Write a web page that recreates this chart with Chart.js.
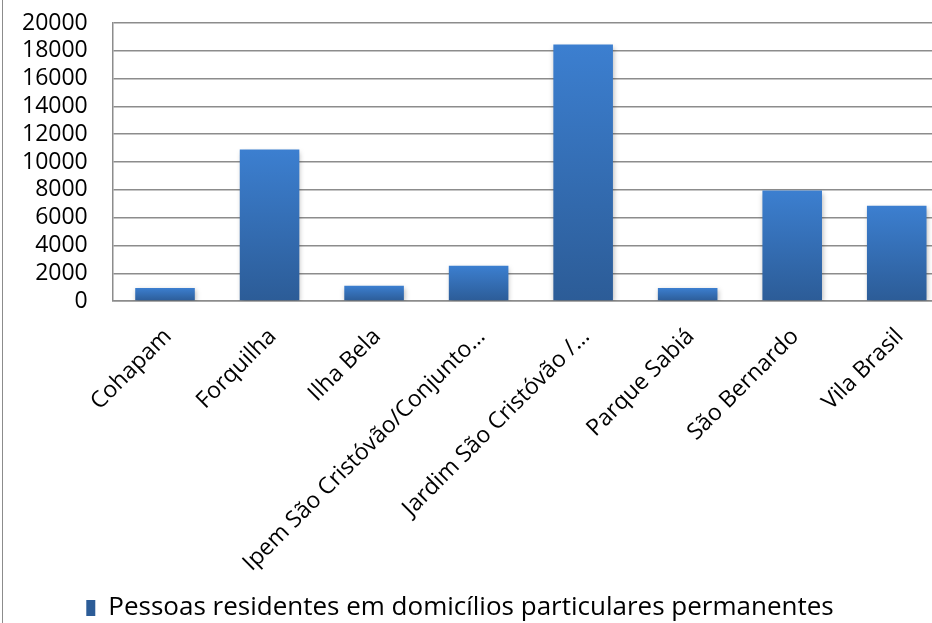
<!DOCTYPE html>
<html>
<head>
<meta charset="utf-8">
<script src="https://cdn.jsdelivr.net/npm/chart.js@4/dist/chart.umd.min.js"></script>
<style>
  html, body { margin: 0; padding: 0; background: #fff; }
  #quadro { position: relative; width: 932px; height: 623px; overflow: hidden; }
  #area   { position: absolute; left: 0; top: 0; width: 980px; height: 623px; }
  #borda  { position: absolute; left: 2px; top: 0; width: 1px; height: 623px; background: #8c8c8c; }
</style>
</head>
<body>
<div id="quadro">
  <div id="area"><canvas id="grafico"></canvas></div>
  <div id="borda"></div>
</div>
<script>
/* dados */
var bairros = [
  "Cohapam",
  "Forquilha",
  "Ilha Bela",
  "Ipem São Cristóvão/Conjunto…",
  "Jardim São Cristóvão /…",
  "Parque Sabiá",
  "São Bernardo",
  "Vila Brasil"
];
var pessoas = [950, 10900, 1100, 2550, 18450, 950, 7950, 6850];
var serieNome = "Pessoas residentes em domicílios particulares permanentes";
var eixoYMin = 0, eixoYMax = 20000, eixoYPasso = 2000;

var FONTE = "'Open Sans', Lato, sans-serif";
var CINZA = "#8c8c8c";

/* degrade por barra (claro em cima, escuro embaixo) */
function gradiente(c) {
  var chart = c.chart;
  if (!chart.chartArea || c.type !== "data") return "#3a7bcb";
  var y = chart.scales.y;
  var topo = y.getPixelForValue(c.raw);
  var base = y.getPixelForValue(0);
  var g = chart.ctx.createLinearGradient(0, topo, 0, base);
  g.addColorStop(0, "#3c7fd0");
  g.addColorStop(1, "#2c5c97");
  return g;
}

/* sombra leve nas barras */
var sombra = {
  id: "sombra",
  beforeDatasetsDraw: function (chart) {
    var ctx = chart.ctx;
    ctx.save();
    ctx.shadowColor = "rgba(0,0,0,0.28)";
    ctx.shadowBlur = 5;
    ctx.shadowOffsetX = 1;
    ctx.shadowOffsetY = 2;
  },
  afterDatasetsDraw: function (chart) { chart.ctx.restore(); }
};

/* legenda centrada na parte visivel (932px) e um pouco mais abaixo */
var centraLegenda = {
  id: "centraLegenda",
  afterLayout: function (chart) {
    var lg = chart.legend;
    if (!lg) return;
    lg.left = 0;
    lg.right = 920;
    lg.top += 8;
    lg.bottom += 8;
  }
};

new Chart(document.getElementById("grafico"), {
  type: "bar",
  data: {
    labels: bairros,
    datasets: [{
      label: serieNome,
      data: pessoas,
      backgroundColor: gradiente,
      borderWidth: 0,
      barPercentage: 0.57,
      categoryPercentage: 1
    }]
  },
  options: {
    responsive: true,
    maintainAspectRatio: false,
    animation: false,
    layout: { padding: { top: 23, left: 19, right: 31, bottom: 0 } },
    scales: {
      x: {
        grid: { display: false },
        border: { display: true, color: CINZA, width: 1.5 },
        afterFit: function (s) { s.height -= 5; },
        ticks: {
          color: "#000",
          font: { family: FONTE, size: 23 },
          maxRotation: 45,
          minRotation: 45,
          autoSkip: false,
          labelOffset: 3,
          padding: 14
        }
      },
      y: {
        min: eixoYMin,
        max: eixoYMax,
        grid: {
          color: CINZA,
          lineWidth: 1.5,
          drawTicks: true,
          tickLength: 22,
          tickColor: "rgba(0,0,0,0)"
        },
        border: { color: CINZA, width: 1.5 },
        ticks: {
          stepSize: eixoYPasso,
          autoSkip: false,
          color: "#000",
          padding: 3,
          font: { family: FONTE, size: 23 },
          callback: function (v) { return String(v); }
        }
      }
    },
    plugins: {
      legend: {
        position: "bottom",
        labels: {
          color: "#000",
          boxWidth: 9,
          boxHeight: 16,
          padding: 1,
          font: { family: FONTE, size: 26 }
        }
      },
      tooltip: { enabled: false }
    }
  },
  plugins: [sombra, centraLegenda]
});
</script>
</body>
</html>
